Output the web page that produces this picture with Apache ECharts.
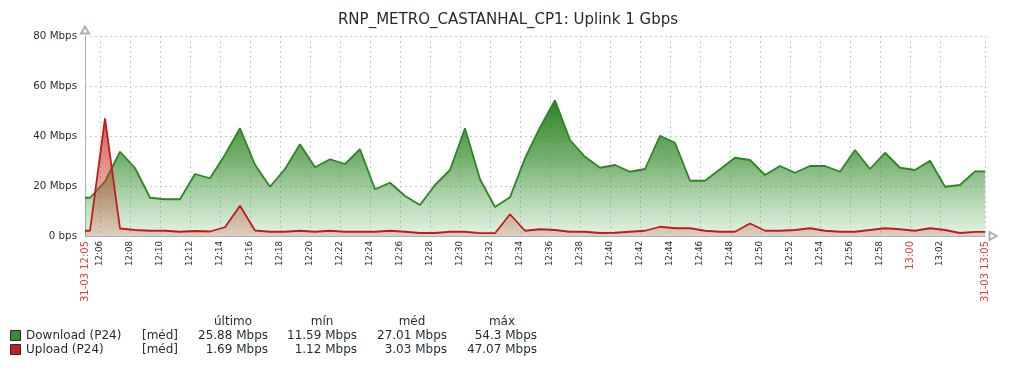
<!DOCTYPE html>
<html>
<head>
<meta charset="utf-8">
<script src="https://cdn.jsdelivr.net/npm/echarts@6/dist/echarts.min.js"></script>
<style>
  html, body { margin: 0; padding: 0; background: #ffffff; }
  #chart { width: 1016px; height: 368px; }
</style>
</head>
<body>
<div id="chart"></div>
<script>
// ---- data (Mbps), one sample per minute starting 12:05:20 ----
const chartTitle = 'RNP_METRO_CASTANHAL_CP1: Uplink 1 Gbps';
const seriesNames = ['Download (P24)', 'Upload (P24)'];
const seriesColors = ['#2b8523', '#c21a1a'];
const boxColors = ['#3a8c34', '#c41e1e'];
const downloadMbps = [
  15.3, 21.8, 33.7, 27.2, 15.3, 14.7, 14.7, 24.8, 23.1, 32.5,
  43.1, 28.5, 19.7, 26.8, 36.7, 27.5, 30.7, 28.8, 34.7, 18.7,
  21.3, 16.0, 12.4, 20.4, 26.4, 43.1, 22.7, 11.59, 15.5, 31.1,
  43.4, 54.3, 38.4, 31.7, 27.3, 28.4, 25.7, 26.8, 40.1, 37.3,
  22.1, 22.1, 26.7, 31.3, 30.4, 24.4, 28.0, 25.3, 28.0, 28.0,
  25.7, 34.4, 26.8, 33.3, 27.3, 26.4, 30.1, 19.7, 20.4, 25.88
];
const uploadMbps = [
  2.1, 47.07, 3.0, 2.4, 2.1, 2.1, 1.7, 2.0, 1.8, 3.5,
  12.1, 2.2, 1.7, 1.7, 2.1, 1.7, 2.1, 1.7, 1.7, 1.7,
  2.1, 1.7, 1.2, 1.2, 1.7, 1.7, 1.12, 1.12, 8.7, 2.1,
  2.7, 2.4, 1.7, 1.7, 1.2, 1.3, 1.7, 2.1, 3.7, 3.1,
  3.1, 2.1, 1.7, 1.7, 5.0, 2.1, 2.1, 2.4, 3.1, 2.1,
  1.7, 1.7, 2.4, 3.1, 2.7, 2.1, 3.1, 2.4, 1.2, 1.69
];
// time axis in minutes after 12:00
const axisStart = 5;      // 12:05
const axisEnd = 65;       // 13:05
const firstSample = 5 + 20 / 60;
const xTickMinutes = [5, 6, 8, 10, 12, 14, 16, 18, 20, 22, 24, 26, 28, 30, 32, 34, 36, 38,
  40, 42, 44, 46, 48, 50, 52, 54, 56, 58, 60, 62, 65];
const redTickLabels = { 5: '31-03 12:05', 60: '13:00', 65: '31-03 13:05' };
// legend table
const statHeaders = ['último', 'mín', 'méd', 'máx'];
const statFunc = '[méd]';
const statValues = [
  ['25.88 Mbps', '11.59 Mbps', '27.01 Mbps', '54.3 Mbps'],
  ['1.69 Mbps', '1.12 Mbps', '3.03 Mbps', '47.07 Mbps']
];

function toPairs(vals) {
  const pts = [[axisStart, vals[0]]];
  vals.forEach((v, i) => pts.push([firstSample + i, v]));
  pts.push([axisEnd, vals[vals.length - 1]]);
  return pts;
}
function fmtMinute(m) {
  const h = 12 + Math.floor(m / 60);
  const mm = m % 60;
  return h + ':' + (mm < 10 ? '0' : '') + mm;
}

const FONT = 'DejaVu Sans';
const TXT = '#1f2a30';
const chart = echarts.init(document.getElementById('chart'), null, { renderer: 'canvas' });

// legend graphic
const graphics = [];
const colRight = [268, 357, 447, 537];
const colCenter = [233, 322, 412, 502];
statHeaders.forEach((h, i) => {
  graphics.push({ type: 'text', x: colCenter[i], y: 322,
    style: { text: h, font: '12px "' + FONT + '"', fill: TXT, align: 'center', verticalAlign: 'middle' } });
});
seriesNames.forEach((name, r) => {
  const cy = 336 + r * 14;
  graphics.push({ type: 'rect', shape: { x: 10.5, y: cy - 5.5, width: 10, height: 10 },
    style: { fill: boxColors[r], stroke: '#2a2a2a', lineWidth: 1 } });
  graphics.push({ type: 'text', x: 26, y: cy,
    style: { text: name, font: '12px "' + FONT + '"', fill: TXT, align: 'left', verticalAlign: 'middle' } });
  graphics.push({ type: 'text', x: 142, y: cy,
    style: { text: statFunc, font: '12px "' + FONT + '"', fill: TXT, align: 'left', verticalAlign: 'middle' } });
  statValues[r].forEach((v, i) => {
    graphics.push({ type: 'text', x: colRight[i], y: cy,
      style: { text: v, font: '12px "' + FONT + '"', fill: TXT, align: 'right', verticalAlign: 'middle' } });
  });
});

const gridLineColor = '#c5cbd2';
const option = {
  animation: false,
  backgroundColor: '#ffffff',
  textStyle: { fontFamily: FONT },
  title: {
    text: chartTitle, left: 'center', top: 8,
    textStyle: { fontFamily: FONT, fontSize: 15, fontWeight: 'normal', color: '#222b31' }
  },
  grid: { left: 85, right: 31, top: 36, bottom: 132, containLabel: false, outerBoundsMode: 'none' },
  xAxis: {
    type: 'value', min: axisStart, max: axisEnd,
    axisLine: { show: true, lineStyle: { color: '#a9b1ba', width: 1 },
      symbol: ['none', 'emptyTriangle'], symbolSize: [8, 7], symbolOffset: [0, 8] },
    axisTick: { show: false, customValues: xTickMinutes },
    splitLine: { show: true, lineStyle: { color: gridLineColor, type: [2, 3], width: 1 } },
    axisLabel: {
      customValues: xTickMinutes, rotate: 90, margin: 5,
      fontFamily: FONT, fontSize: 8.7, color: TXT,
      formatter: v => redTickLabels[v] ? '{r|' + redTickLabels[v] + '}' : fmtMinute(v),
      rich: { r: { color: '#ef3b3b', fontSize: 10, fontFamily: FONT } }
    }
  },
  yAxis: {
    type: 'value', min: 0, max: 80, interval: 20,
    axisLine: { show: true, lineStyle: { color: '#a9b1ba', width: 1 },
      symbol: ['none', 'emptyTriangle'], symbolSize: [8, 7], symbolOffset: [0, 6] },
    axisTick: { show: false },
    splitLine: { show: true, lineStyle: { color: gridLineColor, type: [2, 3], width: 1 } },
    axisLabel: {
      margin: 8, fontFamily: FONT, fontSize: 10.3, color: TXT,
      formatter: v => v === 0 ? '0 bps' : v + ' Mbps'
    }
  },
  series: [
    {
      name: seriesNames[0], type: 'line', data: toPairs(downloadMbps),
      showSymbol: false, symbol: 'none', z: 2,
      lineStyle: { color: seriesColors[0], width: 1.8 },
      areaStyle: {
        opacity: 1,
        color: new echarts.graphic.LinearGradient(0, 0, 0, 1, [
          { offset: 0, color: 'rgba(40,128,30,0.98)' },
          { offset: 0.45, color: 'rgba(52,138,42,0.66)' },
          { offset: 1, color: 'rgba(70,165,70,0.14)' }
        ])
      }
    },
    {
      name: seriesNames[1], type: 'line', data: toPairs(uploadMbps),
      showSymbol: false, symbol: 'none', z: 3,
      lineStyle: { color: seriesColors[1], width: 1.8 },
      areaStyle: {
        opacity: 1,
        color: new echarts.graphic.LinearGradient(0, 0, 0, 1, [
          { offset: 0, color: 'rgba(205,35,35,0.75)' },
          { offset: 1, color: 'rgba(195,70,45,0.2)' }
        ])
      }
    }
  ],
  graphic: graphics
};
chart.setOption(option);
</script>
</body>
</html>
